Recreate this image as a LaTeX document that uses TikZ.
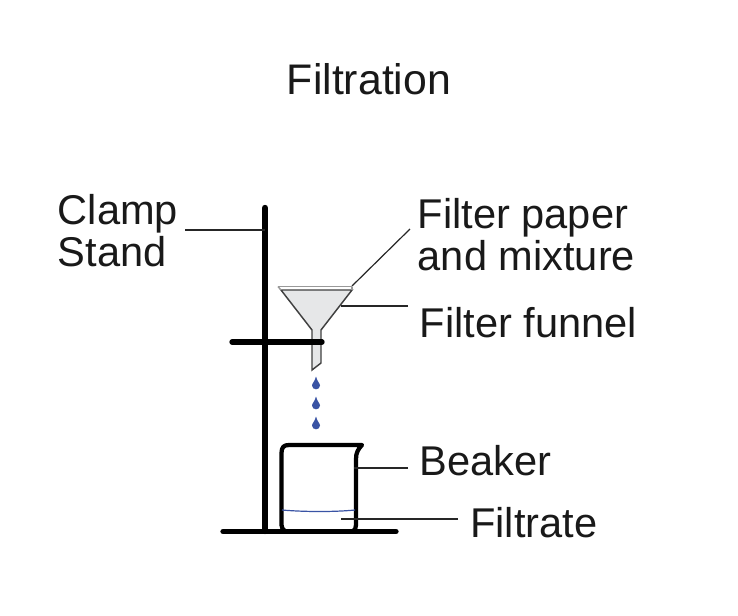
\documentclass[tikz,border=0pt]{standalone}
\usepackage{fontspec}
\setmainfont{Liberation Sans}
\definecolor{funnelgrey}{RGB}{230,231,232}
\definecolor{dropblue}{RGB}{57,83,164}
\tikzset{
	lbl/.style={anchor=base west,inner sep=0pt,align=left,text=black!90,font=\fontsize{31.2}{31.5}\selectfont},
	rod/.style={line width=4pt,line cap=round},
	leader/.style={line width=0.9pt,black!85},
	drop/.style={fill=dropblue,draw=none}
}
\begin{document}
\begin{tikzpicture}[x=0.75pt,y=0.75pt,yscale=-1]
	\useasboundingbox (0,0) rectangle (738,615);
	
	%Title
	\node (title) at (369,94) [lbl,anchor=base,font=\fontsize{32.1}{33}\selectfont] {Filtration};
	
	%Labels
	\node (clamp) at (57.5,224) [lbl] {Clamp};
	\node (stand) at (57.5,266) [lbl] {Stand};
	\node (paper) at (417.5,228) [lbl] {Filter paper};
	\node (mixture) at (417.5,270) [lbl] {and mixture};
	\node (funnel) at (419.5,337) [lbl] {Filter funnel};
	\node (beaker) at (419,475) [lbl] {Beaker};
	\node (filtrate) at (470,537.5) [lbl] {Filtrate};
	
	%Funnel
	\draw [fill=funnelgrey,draw=black!75,line width=1.1pt] (281,290) -- (352,290) -- (321,330) -- (321,363) -- (312,370) -- (312,330) -- cycle;
	\draw [black!40,line width=1.1pt] (278,286.5) -- (352,286.5);
	\draw [black!40,line width=1.1pt] (278,286.5) -- (281,290);
	\draw [black!40,line width=1.1pt] (352,286.5) -- (352,290);
	
	%Stand
	\draw [rod,line width=4.8pt] (265,208) -- (265,531);
	\draw [rod] (232,342) -- (322,342);
	\draw [rod] (223,531.5) -- (396,531.5);
	
	%Beaker
	\draw [line width=3.2pt,line join=round] (285,531) .. controls (283,530) and (281.5,528) .. (281.5,525) -- (281.5,453) .. controls (281.5,447) and (284,445) .. (289,445) -- (362,445) .. controls (358,449) and (356,453) .. (356,459) -- (356,525) .. controls (356,528) and (355,530) .. (353,531);
	\draw [dropblue,line width=0.9pt] (282,510) .. controls (305,512) and (335,512) .. (355,510);
	
	%Drops
	\foreach \dy in {383,403,423}
		\fill [drop] (316,\dy-6.5) .. controls (317,\dy-2) and (320,\dy+0.5) .. (320,\dy+2.5) .. controls (320,\dy+7.5) and (312,\dy+7.5) .. (312,\dy+2.5) .. controls (312,\dy+0.5) and (315,\dy-2) .. (316,\dy-6.5) -- cycle;
	
	%Leader lines
	\coordinate (clampEnd) at (185,230);
	\coordinate (clampRod) at (265,230);
	\coordinate (paperEnd) at (410,229);
	\coordinate (paperRim) at (352,286);
	\coordinate (funnelEnd) at (408,306);
	\coordinate (funnelSide) at (341,306);
	\coordinate (beakerEnd) at (408,468);
	\coordinate (beakerSide) at (354,468);
	\coordinate (filtrateEnd) at (458,519);
	\coordinate (filtrateIn) at (341,519);
	\draw [leader] (clampEnd) -- (clampRod);
	\draw [leader] (paperEnd) -- (paperRim);
	\draw [leader] (funnelEnd) -- (funnelSide);
	\draw [leader] (beakerEnd) -- (beakerSide);
	\draw [leader] (filtrateEnd) -- (filtrateIn);
\end{tikzpicture}
\end{document}
